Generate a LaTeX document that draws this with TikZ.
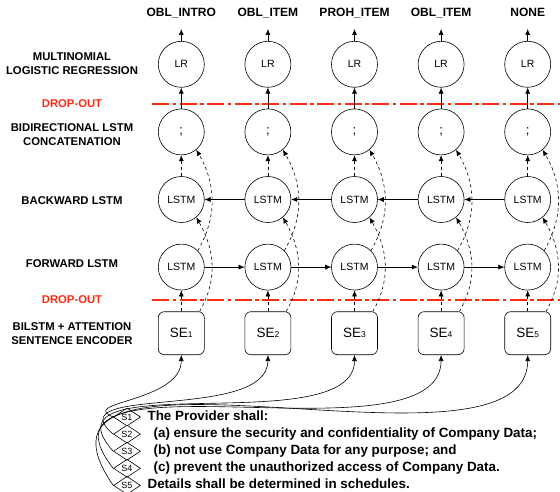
\documentclass[tikz,border=0pt]{standalone}
\usepackage{fontspec}
\setmainfont{Liberation Sans}
\usepackage{tikz}
\usetikzlibrary{arrows.meta,matrix,positioning,shapes.geometric}
\definecolor{dropred}{RGB}{250,45,20}
\tikzset{
  rowlabel/.style={font=\bfseries\fontsize{11.3}{14}\selectfont, align=center},
  toplabel/.style={font=\bfseries\fontsize{12}{14}\selectfont, text height=8.5pt, text depth=2.5pt},
  dropout/.style={draw=dropred, line width=1.6pt, dash pattern=on 17pt off 3.5pt on 3.5pt off 3.5pt},
  sentbox/.style={draw, diamond, minimum width=27pt, minimum height=18pt, inner sep=0pt, font=\fontsize{9}{9}\selectfont},
  sentline/.style={font=\bfseries\fontsize{13.4}{15}\selectfont, text height=9.5pt, text depth=2.8pt, inner sep=2pt}
}

\begin{document}
\begin{tikzpicture}[x=1pt,y=1pt,line width=0.6pt,>={Latex[length=6pt,width=5pt]}]
      \useasboundingbox (0,0) rectangle (560,-492);
      \matrix (M) [matrix of nodes, column sep=40pt, row sep=21pt,
        nodes={draw, circle, minimum size=46pt, inner sep=0pt, font=\fontsize{10.5}{12}\selectfont},
        row 2/.style={nodes={font=\fontsize{13}{14}\selectfont}},
        row 5/.style={nodes={rectangle, rounded corners=6pt, minimum width=46pt, minimum height=43pt, font=\fontsize{13.5}{14}\selectfont}}] at (354.5,-198)
      {
        LR & LR & LR & LR & LR \\
        {;} & {;} & {;} & {;} & {;} \\
        LSTM & LSTM & LSTM & LSTM & LSTM \\
        LSTM & LSTM & LSTM & LSTM & LSTM \\
        SE{\fontsize{8.5}{9}\selectfont 1} & SE{\fontsize{8.5}{9}\selectfont 2} & SE{\fontsize{8.5}{9}\selectfont 3} & SE{\fontsize{8.5}{9}\selectfont 4} & SE{\fontsize{8.5}{9}\selectfont 5} \\
      };

      \node[toplabel, above=18pt of M-1-1] (out1) {OBL\_INTRO};
      \node[toplabel, above=18pt of M-1-2] (out2) {OBL\_ITEM};
      \node[toplabel, above=18pt of M-1-3] (out3) {PROH\_ITEM};
      \node[toplabel, above=18pt of M-1-4] (out4) {OBL\_ITEM};
      \node[toplabel, above=18pt of M-1-5] (out5) {NONE};

      \draw[dropout] (152,-104) -- (560,-104);
      \draw[dropout] (152,-300) -- (560,-300);

      \node[rowlabel] (lrlabel) at (72,-64) {MULTINOMIAL\\LOGISTIC REGRESSION};
      \node[rowlabel, text=dropred] (droplabel1) at (72,-104) {DROP-OUT};
      \node[rowlabel] (catlabel) at (72,-134.5) {BIDIRECTIONAL LSTM\\CONCATENATION};
      \node[rowlabel] (bwlabel) at (72,-201) {BACKWARD LSTM};
      \node[rowlabel] (fwlabel) at (72,-264) {FORWARD LSTM};
      \node[rowlabel, text=dropred] (droplabel2) at (72,-300) {DROP-OUT};
      \node[rowlabel] (selabel) at (72,-334) {BILSTM + ATTENTION\\SENTENCE ENCODER};

      % outputs
      \draw[->, shorten >=6pt] (M-1-1) -- (out1);
      \draw[->, shorten >=6pt] (M-1-2) -- (out2);
      \draw[->, shorten >=6pt] (M-1-3) -- (out3);
      \draw[->, shorten >=6pt] (M-1-4) -- (out4);
      \draw[->, shorten >=6pt] (M-1-5) -- (out5);

      \draw[->] (M-2-1) -- (M-1-1);
      \draw[->] (M-2-2) -- (M-1-2);
      \draw[->] (M-2-3) -- (M-1-3);
      \draw[->] (M-2-4) -- (M-1-4);
      \draw[->] (M-2-5) -- (M-1-5);

      % backward to concatenation
      \draw[->, dashed] (M-3-1) -- (M-2-1);
      \draw[->, dashed] (M-3-2) -- (M-2-2);
      \draw[->, dashed] (M-3-3) -- (M-2-3);
      \draw[->, dashed] (M-3-4) -- (M-2-4);
      \draw[->, dashed] (M-3-5) -- (M-2-5);

      % forward to concatenation
      \draw[->, dashed] (M-4-1.45) to[out=60, in=-60] (M-2-1.-50);
      \draw[->, dashed] (M-4-2.45) to[out=60, in=-60] (M-2-2.-50);
      \draw[->, dashed] (M-4-3.45) to[out=60, in=-60] (M-2-3.-50);
      \draw[->, dashed] (M-4-4.45) to[out=60, in=-60] (M-2-4.-50);
      \draw[->, dashed] (M-4-5.45) to[out=60, in=-60] (M-2-5.-50);

      \draw[->] (M-4-1) -- (M-4-2);
      \draw[->] (M-4-2) -- (M-4-3);
      \draw[->] (M-4-3) -- (M-4-4);
      \draw[->] (M-4-4) -- (M-4-5);
      \draw[->] (M-3-5) -- (M-3-4);
      \draw[->] (M-3-4) -- (M-3-3);
      \draw[->] (M-3-3) -- (M-3-2);
      \draw[->] (M-3-2) -- (M-3-1);

      % encoder to both directions
      \draw[->, dashed] (M-5-1) -- (M-4-1);
      \draw[->, dashed] (M-5-2) -- (M-4-2);
      \draw[->, dashed] (M-5-3) -- (M-4-3);
      \draw[->, dashed] (M-5-4) -- (M-4-4);
      \draw[->, dashed] (M-5-5) -- (M-4-5);

      \draw[->, dashed] (M-5-1.50) to[out=60, in=-60] (M-3-1.-50);
      \draw[->, dashed] (M-5-2.50) to[out=60, in=-60] (M-3-2.-50);
      \draw[->, dashed] (M-5-3.50) to[out=60, in=-60] (M-3-3.-50);
      \draw[->, dashed] (M-5-4.50) to[out=60, in=-60] (M-3-4.-50);
      \draw[->, dashed] (M-5-5.50) to[out=60, in=-60] (M-3-5.-50);

      % sentences
      \node[sentbox] (s1) at (127,-417) {S1};
      \node[sentbox, below=-1.5pt of s1] (s2) {S2};
      \node[sentbox, below=-1.5pt of s2] (s3) {S3};
      \node[sentbox, below=-1.5pt of s3] (s4) {S4};
      \node[sentbox, below=-1.5pt of s4] (s5) {S5};

      \node[sentline, right=4.5pt of s1] (t1) {The Provider shall:};
      \node[sentline, right=10.5pt of s2] (t2) {(a) ensure the security and confidentiality of Company Data;};
      \node[sentline, right=10.5pt of s3] (t3) {(b) not use Company Data for any purpose; and};
      \node[sentline, right=10.5pt of s4] (t4) {(c) prevent the unauthorized access of Company Data.};
      \node[sentline, right=4.5pt of s5] (t5) {Details shall be determined in schedules.};

      \draw[->] (s1.west) .. controls +(-36,15) and +(0,-47) .. (M-5-1.south);
      \draw[->] (s2.west) .. controls +(-59,50) and +(0,-67) .. (M-5-2.south);
      \draw[->] (s3.west) .. controls +(-79,88) and +(0,-87) .. (M-5-3.south);
      \draw[->] (s4.west) .. controls +(-99,126) and +(0,-112) .. (M-5-4.south);
      \draw[->] (s5.west) .. controls +(-119,173) and +(0,-137) .. (M-5-5.south);
    \end{tikzpicture}
\end{document}
